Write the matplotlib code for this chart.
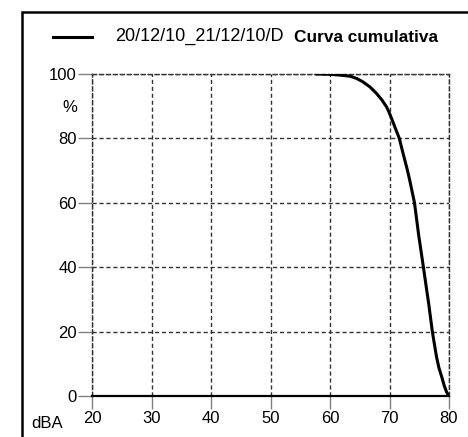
import matplotlib
matplotlib.use("Agg")

import numpy as np
import matplotlib.pyplot as plt
from matplotlib.patches import Rectangle

# cumulative curve
level_dba = [57.8, 60.0, 62.0, 63.4, 64.5, 65.5, 66.7, 67.7, 68.7, 69.5, 70.0,
             70.6, 71.1, 71.65, 72.3, 73.0, 73.4, 74.2, 74.9, 75.7, 76.25,
             76.6, 77.2, 77.6, 77.9, 78.3, 78.8, 79.2, 79.6, 80.0]
percent = [100.0, 99.9, 99.6, 99.3, 98.6, 97.6, 96.0, 94.2, 92.0, 89.8, 87.8,
           85.0, 82.6, 80.0, 75.2, 70.2, 67.0, 60.0, 50.0, 40.0, 32.9,
           28.5, 20.0, 15.5, 12.2, 8.8, 5.8, 3.2, 1.2, 0.0]

x_ticks = [20, 30, 40, 50, 60, 70, 80]
y_ticks = [0, 20, 40, 60, 80, 100]
series_label = "20/12/10_21/12/10/D"
chart_title = "Curva cumulativa"

plt.rcParams["font.family"] = ["Liberation Sans", "DejaVu Sans"]

fig = plt.figure(figsize=(4.68, 4.37), dpi=100)
W, H = 468, 437

# outer frame (runs off the right and bottom edge)
fig.patches.append(Rectangle((22 / W, -0.1), 1.0, (H - 12) / H + 0.1,
                             transform=fig.transFigure, fill=False,
                             edgecolor="black", linewidth=1.8))

ax = fig.add_axes([92 / W, (H - 396) / H, (449 - 92) / W, (396 - 74) / H])
ax.plot(level_dba, percent, color="black", linewidth=2.2, zorder=3,
        solid_joinstyle="round")

ax.set_xlim(20, 80)
ax.set_ylim(0, 100)
ax.set_xticks(x_ticks)
ax.set_yticks(y_ticks)
ax.grid(True, color="#333333", linestyle=(0, (3, 2)), linewidth=1.0)

for side in ["left", "top", "right"]:
    ax.spines[side].set_linestyle((0, (3, 2)))
    ax.spines[side].set_color("#333333")
    ax.spines[side].set_linewidth(1.0)
ax.spines["bottom"].set_color("black")
ax.spines["bottom"].set_linewidth(1.6)

ax.tick_params(axis="y", length=10, width=1, color="gray", labelsize=12, pad=1)
ax.tick_params(axis="x", length=9, width=1, color="gray", labelsize=12, pad=2)

# unit labels
fig.text(70 / W, 1 - 108 / H, "%", fontsize=12, ha="center", va="center")
fig.text(47 / W, 1 - 423 / H, "dBA", fontsize=12, ha="center", va="center")

# legend / title line
fig.lines.append(plt.Line2D([53 / W, 92 / W], [1 - 37 / H, 1 - 37 / H],
                            transform=fig.transFigure, color="black", linewidth=2.2))
fig.text(115 / W, 1 - 36 / H, series_label, fontsize=13, ha="left", va="center")
fig.text(294 / W, 1 - 37 / H, chart_title, fontsize=12.4, fontweight="bold",
         ha="left", va="center")

fig.savefig("out.png", dpi=100)
plt.close(fig)
